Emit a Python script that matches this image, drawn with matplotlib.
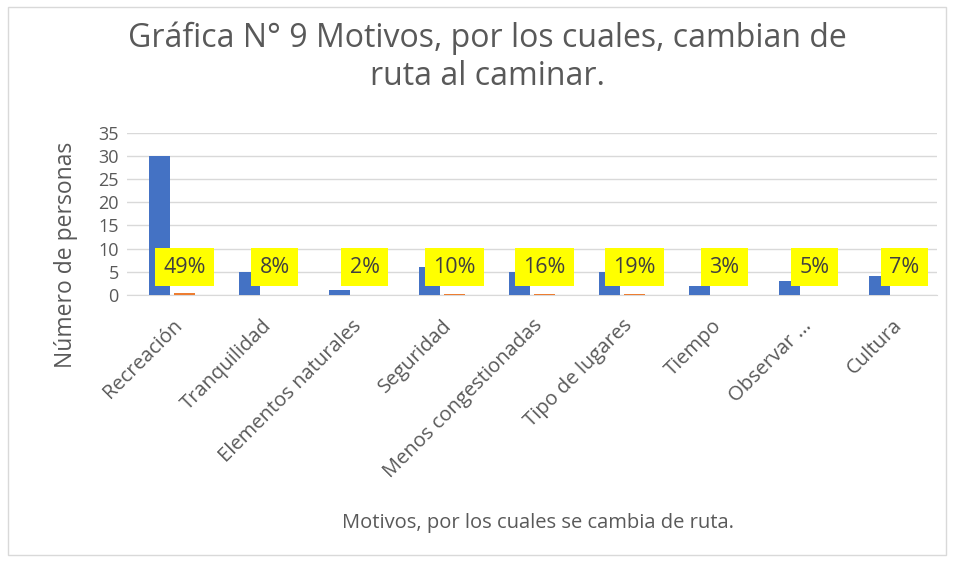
import numpy as np
import matplotlib.pyplot as plt
from matplotlib.patches import Rectangle

plt.rcParams['font.family'] = ['Open Sans', 'DejaVu Sans']

# Data
categorias = ["Recreación", "Tranquilidad", "Elementos naturales", "Seguridad",
              "Menos congestionadas", "Tipo de lugares", "Tiempo", "Observar ...", "Cultura"]
personas = [30, 5, 1, 6, 5, 5, 2, 3, 4]
porcentaje = [0.49, 0.08, 0.02, 0.10, 0.16, 0.19, 0.03, 0.05, 0.07]
etiquetas = ["49%", "8%", "2%", "10%", "16%", "19%", "3%", "5%", "7%"]

gris = "#595959"

fig = plt.figure(figsize=(9.55, 5.65), dpi=100)
ax = fig.add_axes([0.133, 0.478, 0.848, 0.287])

x = np.arange(len(categorias))
w = 0.23
ax.bar(x - 0.14, personas, width=w, color="#4472C4", zorder=3)
ax.bar(x + 0.14, porcentaje, width=w, color="#ED7D31", zorder=3)

# Yellow percentage labels above the orange series
for xi, lab in zip(x, etiquetas):
    ax.text(xi + 0.14, 6.0, lab, ha="center", va="center", fontsize=15.5, color="#404040",
            zorder=5, bbox=dict(boxstyle="square,pad=0.4", fc="#FFFF00", ec="none"))

ax.set_xlim(-0.5, len(categorias) - 0.5)
ax.set_ylim(0, 35)
ax.set_yticks(range(0, 36, 5))
ax.grid(axis="y", color="#d9d9d9", linewidth=1, zorder=0)
for s in ["top", "right", "left"]:
    ax.spines[s].set_visible(False)
ax.spines["bottom"].set_color("#d9d9d9")
ax.tick_params(axis="y", length=0, colors=gris, labelsize=13, pad=6)
ax.tick_params(axis="x", length=0, colors=gris, labelsize=14.5, pad=15)
ax.set_xticks(x)
ax.set_xticklabels(categorias, rotation=45, ha="right", rotation_mode="anchor")

ax.set_ylabel("Número de personas", fontsize=16.5, color=gris)
ax.yaxis.set_label_coords(-0.06, 0.25)
fig.text(0.563, 0.065, "Motivos, por los cuales se cambia de ruta.", ha="center",
         fontsize=14.5, color=gris)
fig.text(0.51, 0.835, "Gráfica N° 9 Motivos, por los cuales, cambian de\nruta al caminar.",
         ha="center", va="bottom", fontsize=23, color=gris, linespacing=1.2)

# chart border
fig.patches.append(Rectangle((0.008, 0.017), 0.983, 0.97, transform=fig.transFigure,
                             fill=False, ec="#d9d9d9", lw=1))

fig.savefig("out.png", dpi=100)
